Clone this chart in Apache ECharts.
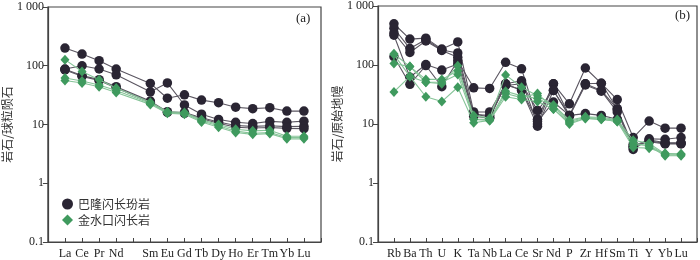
<!DOCTYPE html>
<html><head><meta charset="utf-8">
<script src="https://cdn.jsdelivr.net/npm/echarts@6/dist/echarts.min.js"></script>
<style>html,body{margin:0;padding:0;background:#fff}#c{width:700px;height:260px}</style>
</head><body><div id="c"></div>
<script>
// ---- Data ----
const reeCats = ['La','Ce','Pr','Nd','Pm','Sm','Eu','Gd','Tb','Dy','Ho','Er','Tm','Yb','Lu'];
const reeLabels = ['La','Ce','Pr','Nd','','Sm','Eu','Gd','Tb','Dy','Ho','Er','Tm','Yb','Lu'];
// 巴隆闪长玢岩 (REE, chondrite-normalized)
const reeB1 = [200, 158, 122, 88, null, 50, 28, 32, 26, 23.5, 19.7, 18.6, 19.3, 16.9, 16.9];
const reeB2 = [88, 100, 88, 70, null, 36, 51, 21.5, 15, 12.2, 10.9, 10.4, 11.3, 10.9, 11.4];
const reeB3 = [87, 68, 58, 44, null, 25, 16.5, 16, 13, 11, 9.6, 9.3, 9.5, 9.2, 9.3];
const reeB4 = [85, 66, 56, 42, null, 24, 16, 15.5, 12.5, 10.5, 9.0, 8.7, 8.9, 8.6, 8.5];
// 金水口闪长岩 (REE)
const reeG1 = [127, 80, 58, 42, null, 24, 16.5, 16, 12, 10, 8.3, 7.8, 8, 6.3, 6.3];
const reeG2 = [62, 55, 47, 38, null, 23, 16, 15.5, 11.5, 9.5, 7.7, 7.1, 7.3, 6.0, 6.0];
const reeG3 = [56, 51, 44, 35, null, 22, 15.5, 15, 11, 9, 7.3, 6.8, 7, 5.7, 5.7];

const spCats = ['Rb','Ba','Th','U','K','Ta','Nb','La','Ce','Sr','Nd','P','Zr','Hf','Sm','Ti','Y','Yb','Lu'];
// 巴隆闪长玢岩 (primitive-mantle-normalized)
const spB1 = [138, 47, 98, 43, 118, 41, 40, 111, 86, 12, 48, 22, 89, 49, 26, 5.9, 11.2, 8.5, 8.5];
const spB2 = [500, 275, 285, 186, 246, 16, 16, 48, 54, 10, 48, 14, 48, 49, 18, 3.7, 5.6, 5.5, 5.9];
const spB3 = [420, 190, 270, 180, 160, 14.5, 14, 45, 48, 17, 37, 14, 48, 37, 18, 4.2, 5.4, 4.8, 4.8];
const spB4 = [350, 163, 256, 176, 135, 13.5, 12.5, 48, 37, 9.2, 37, 13.5, 46, 36, 16, 4.0, 5.2, 4.7, 4.7];
const spB5 = [320, 62, 102, 82, 104, 15, 13, 46, 38, 11, 23.6, 14, 15, 14, 12, 4.5, 5.0, 4.6, 4.6];
// 金水口闪长岩
const spG1 = [155, 94, 57, 57, 80, 14, 12.5, 68, 42, 30, 21, 11.6, 13.3, 12.9, 11.9, 5.3, 4.7, 3.1, 3.1];
const spG2 = [106, 94, 51, 48, 97, 12, 12, 36, 30, 27, 20, 11, 13, 12.4, 11.5, 4.4, 4.4, 3.0, 3.0];
const spG3 = [150, 64, 51, 51, 69, 12, 11.5, 33, 28, 33, 18, 10.5, 12.5, 12, 11, 4.8, 4.2, 2.9, 2.9];
const spG4 = [35, 64, 29, 24, 42, 10.5, 11.5, 29, 26, 24, 18, 10, 12.4, 12, 11, 4.0, 3.9, 3.2, 3.1];

const yTicks = ['0.1','1','10','100','1 000'];
const nameB = '巴隆闪长玢岩', nameG = '金水口闪长岩';

// ---- Chart ----
const serif = '"Liberation Serif","DejaVu Serif",serif';
const cjk = '"Noto Sans CJK SC","Liberation Serif",serif';
const darkC = '#2a2533', darkL = '#5a5560', greenC = '#3f9a5e', greenL = '#86c498';

function pts(arr){ const o=[]; arr.forEach((v,i)=>{ if(v!=null) o.push([i,v]); }); return o; }
function mk(name, arr, gi, dark){
  return {
    type:'line', name, xAxisIndex:gi, yAxisIndex:gi, data:pts(arr),
    symbol: dark?'circle':'diamond', symbolSize: dark?9.5:[9,10],
    itemStyle:{color: dark?darkC:greenC, borderWidth:0},
    lineStyle:{color: dark?darkL:greenL, width:1.1},
    z: dark?2:3, animation:false, emphasis:{disabled:true}
  };
}
function yAxis(gi, name, gap){
  return {
    type:'log', logBase:10, min:0.1, max:1000, gridIndex:gi,
    name, nameLocation:'middle', nameGap:gap, nameRotate:90,
    nameTextStyle:{fontFamily:cjk, fontSize:12, color:'#333'},
    axisLine:{show:true, onZero:false, lineStyle:{color:'#444', width:1.2}},
    axisTick:{show:true, inside:false, length:5, lineStyle:{color:'#444'}},
    minorTick:{show:false},
    splitLine:{show:false},
    axisLabel:{fontFamily:serif, fontSize:12, color:'#222', margin:4,
      formatter:v=>{ const i=Math.round(Math.log10(v))+1; return yTicks[i]||''; }}
  };
}
function xAxis(gi, labels){
  return {
    type:'value', gridIndex:gi, min:-1, max:labels.length, interval:1,
    axisLine:{show:true, onZero:false, lineStyle:{color:'#444', width:1.2}},
    axisTick:{show:true, inside:true, length:4, lineStyle:{color:'#444'}},
    splitLine:{show:false},
    axisLabel:{fontFamily:serif, fontSize:12, color:'#222', margin:6,
      showMinLabel:true, showMaxLabel:true,
      formatter:v=>(v>=0 && v<labels.length)?labels[v]:''}
  };
}

const series = [];
[reeB1,reeB2,reeB3,reeB4].forEach(a=>series.push(mk(nameB,a,0,true)));
[reeG1,reeG2,reeG3].forEach(a=>series.push(mk(nameG,a,0,false)));
[spB1,spB2,spB3,spB4,spB5].forEach(a=>series.push(mk(nameB,a,1,true)));
[spG1,spG2,spG3,spG4].forEach(a=>series.push(mk(nameG,a,1,false)));

const chart = echarts.init(document.getElementById('c'), null, {renderer:'canvas'});
chart.setOption({
  backgroundColor:'#fff',
  animation:false,
  grid:[
    {left:45, right:379, top:7, bottom:17, show:true, borderColor:'#444', borderWidth:1.2},
    {left:378, right:2, top:5, bottom:17, show:true, borderColor:'#444', borderWidth:1.2}
  ],
  xAxis:[xAxis(0, reeLabels), xAxis(1, spCats)],
  yAxis:[yAxis(0,'岩石/球粒陨石',34), yAxis(1,'岩石/原始地幔',18)],
  legend:{
    orient:'vertical', left:57, top:193, itemGap:4, itemWidth:11, itemHeight:11,
    data:[{name:nameB, icon:'circle'},{name:nameG, icon:'diamond'}],
    textStyle:{fontFamily:cjk, fontSize:12, color:'#333'}, selectedMode:false
  },
  graphic:[
    {type:'text', left:296, top:12, style:{text:'(a)', font:'13px '+serif, fill:'#222'}},
    {type:'text', left:675, top:9, style:{text:'(b)', font:'13px '+serif, fill:'#222'}}
  ],
  series
});
</script></body></html>
